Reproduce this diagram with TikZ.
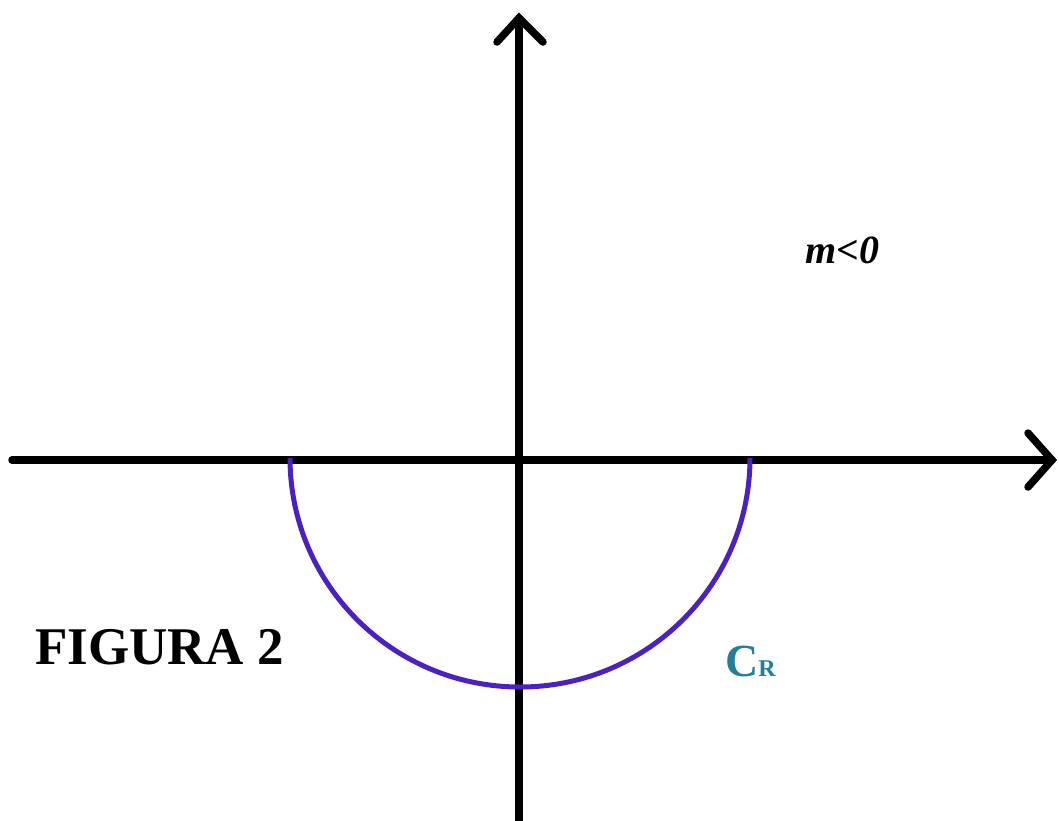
\documentclass[tikz,border=0pt]{standalone}
\usepackage{fontspec}
\setmainfont{Liberation Serif}
\definecolor{arcblue}{HTML}{4A22C2}
\definecolor{crteal}{HTML}{237E9C}
\begin{document}
\begin{tikzpicture}[x=1pt,y=-1pt,
  axis/.style={line width=7.5pt,black,line cap=round,line join=round},
  chev/.style={line width=7.5pt,black,line cap=round,line join=miter},
  lbl/.style={inner sep=0pt,anchor=base west}]
\useasboundingbox[fill=white] (0,0) rectangle (1059,820);
\coordinate (xl) at (12,460);
\coordinate (xr) at (1052,460);
\coordinate (yb) at (519,822);
\coordinate (yt) at (519,18);
\coordinate (xra) at (1028,433);
\coordinate (xrb) at (1028,487);
\coordinate (yta) at (497,42);
\coordinate (ytb) at (543,42);
\draw[axis] (xl) -- (xr);
\draw[axis] (yb) -- (yt);
\draw[chev] (xra) -- (xr) -- (xrb);
\draw[chev] (yta) -- (yt) -- (ytb);
\coordinate (al) at (290,458);
\draw[line width=5pt,arcblue] (al) arc[start angle=180,end angle=360,x radius=230,y radius=-229];
\node[lbl] (m) at (805,263) {\fontsize{40}{40}\selectfont\bfseries\itshape m<0};
\node[lbl] (fig) at (35,664) {\fontsize{53}{53}\selectfont\bfseries FIGURA 2};
\node[lbl,text=crteal] (cr) at (725,676) {\fontsize{46}{46}\selectfont\bfseries C\fontsize{24}{24}\selectfont R};
\end{tikzpicture}
\end{document}
